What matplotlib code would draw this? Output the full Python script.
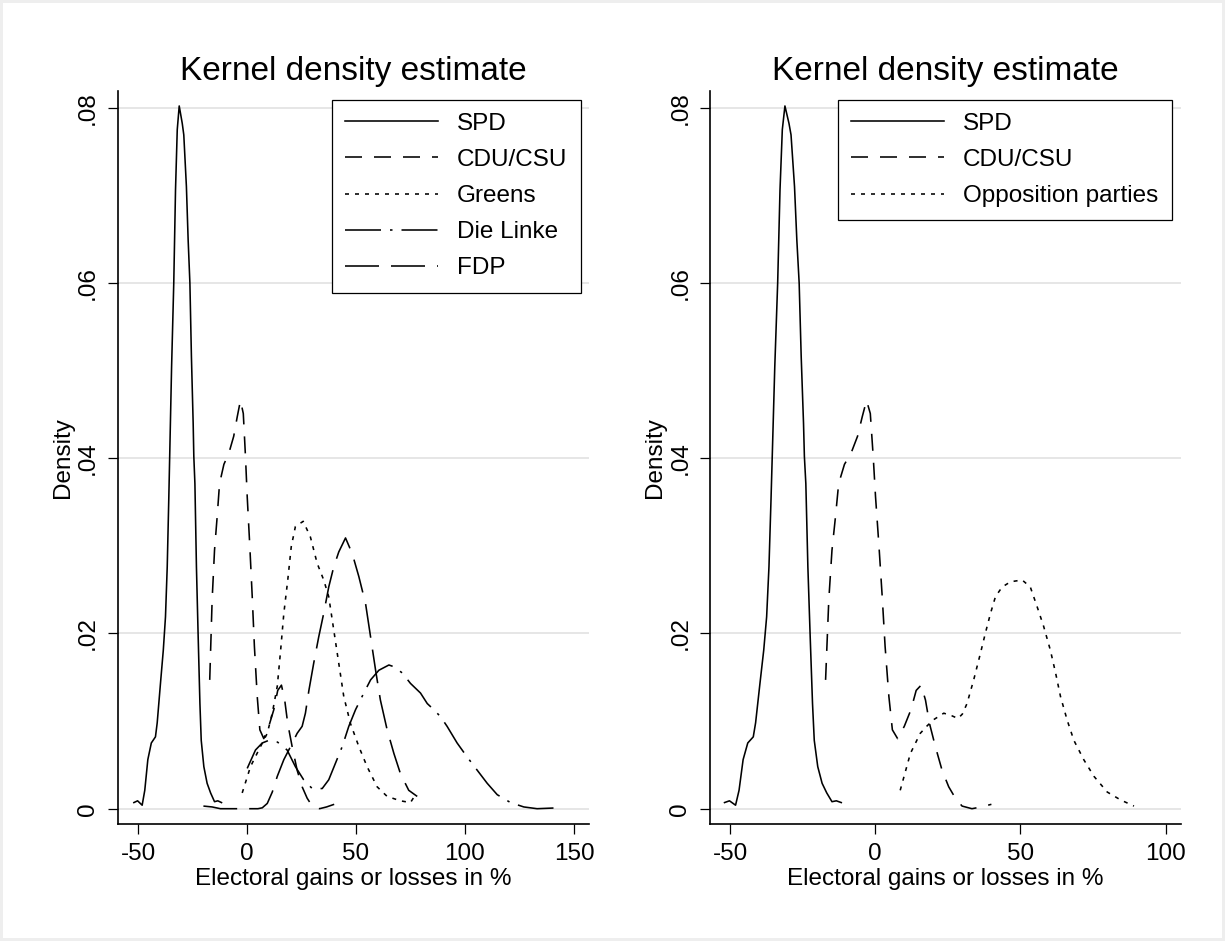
import matplotlib
matplotlib.use("Agg")
import matplotlib.pyplot as plt

plt.rcParams['font.family'] = ['Liberation Sans', 'DejaVu Sans']
plt.rcParams['axes.unicode_minus'] = False

# density curves (x = gain/loss in %, y = density)
spd_x = [-51.9, -50.2, -48.1, -46.9, -45.5, -43.9, -42.0, -41.2, -39.7, -38.4, -37.4, -36.6,
         -35.9, -35.4, -34.6, -33.6, -32.8, -32.0, -31.1, -29.7, -29.0, -27.8, -27.0, -26.2,
         -25.5, -24.7, -24.4, -23.9, -23.2, -22.4, -21.6, -21.0, -19.8, -18.3, -16.7, -14.9,
         -13.4, -11.7]
spd_y = [0.0007, 0.0009, 0.0004, 0.0021, 0.0056, 0.0075, 0.0082, 0.0098, 0.0143, 0.0181, 0.0219, 0.0276,
         0.0352, 0.0410, 0.0504, 0.0600, 0.0706, 0.0775, 0.0802, 0.0782, 0.0769, 0.0710, 0.0649, 0.0600,
         0.0516, 0.0440, 0.0402, 0.0371, 0.0276, 0.0196, 0.0120, 0.0078, 0.0048, 0.0029, 0.0018, 0.0008,
         0.0009, 0.0007]

cdu_x = [-17.1, -16.0, -14.9, -13.7, -12.6, -10.6, -8.3, -6.1, -4.5, -3.0, -1.7, -0.7, 0.1, 1.3,
         2.4, 3.4, 4.7, 5.9, 7.7, 10.0, 12.3, 14.1, 15.8, 17.3, 18.7, 20.7, 23.0, 25.3, 27.6,
         29.9, 33.3, 36.5, 40.0]
cdu_y = [0.0147, 0.0238, 0.0295, 0.0333, 0.0371, 0.0393, 0.0406, 0.0425, 0.0447, 0.0466, 0.0451, 0.0402,
         0.0356, 0.0299, 0.0242, 0.0185, 0.0128, 0.0090, 0.0080, 0.0094, 0.0113, 0.0135, 0.0141, 0.0124,
         0.0097, 0.0071, 0.0044, 0.0025, 0.0012, 0.0003, 0.0000, 0.0002, 0.0005]

greens_x = [-2.2, 1.6, 5.4, 9.3, 11.6, 13.9, 15.4, 16.9, 18.7, 20.3, 22.2, 25.8, 29.1, 32.2, 35.2,
            37.5, 39.8, 42.1, 44.4, 47.5, 51.3, 55.1, 59.7, 64.3, 70.4, 75.0, 77.3]
greens_y = [0.0018, 0.0048, 0.0067, 0.0086, 0.0109, 0.0140, 0.0180, 0.0223, 0.0261, 0.0299, 0.0322, 0.0328,
            0.0310, 0.0280, 0.0261, 0.0242, 0.0204, 0.0166, 0.0128, 0.0097, 0.0071, 0.0048, 0.0025, 0.0014,
            0.0009, 0.0007, 0.0016]

linke_x = [0.1, 3.9, 7.0, 10.0, 14.0, 18.4, 22.2, 26.0, 29.9, 34.5, 37.5, 40.6, 43.7, 46.7, 49.8,
           53.6, 56.7, 60.5, 65.1, 67.4, 71.2, 75.0, 79.6, 82.7, 85.7, 88.8, 91.8, 96.4, 101.0,
           105.6, 110.2, 114.8, 120.9, 127.0, 133.1, 143.0]
linke_y = [0.0046, 0.0067, 0.0075, 0.0078, 0.0076, 0.0067, 0.0048, 0.0033, 0.0023, 0.0023, 0.0033, 0.0052,
           0.0071, 0.0094, 0.0113, 0.0132, 0.0147, 0.0158, 0.0164, 0.0162, 0.0155, 0.0143, 0.0132, 0.0120,
           0.0113, 0.0105, 0.0094, 0.0075, 0.0059, 0.0044, 0.0029, 0.0016, 0.0007, 0.0002, 0.0000, 0.0001]

fdp_x = [-20.0, -16.0, -12.2, -5.0, 0.0, 5.0, 7.0, 9.3, 11.6, 13.9, 16.9, 20.0, 23.0, 25.3, 26.8,
         28.4, 30.6, 32.9, 35.2, 37.5, 39.8, 42.1, 45.2, 48.3, 51.3, 54.4, 56.7, 59.0, 61.2, 64.3,
         67.4, 70.4, 74.2, 78.1]
fdp_y = [0.0003, 0.0002, 0.0000, 0.0000, 0.0000, 0.0000, 0.0001, 0.0006, 0.0019, 0.0037, 0.0056, 0.0071,
         0.0086, 0.0094, 0.0109, 0.0135, 0.0166, 0.0196, 0.0223, 0.0253, 0.0276, 0.0293, 0.0309, 0.0291,
         0.0265, 0.0234, 0.0196, 0.0158, 0.0124, 0.0090, 0.0063, 0.0040, 0.0021, 0.0014]

opp_x = [8.6, 12.1, 15.5, 18.0, 20.3, 23.6, 26.4, 28.5, 30.0, 31.6, 33.9, 36.2, 37.9, 39.7, 41.4,
         43.7, 46.6, 50.6, 53.4, 55.7, 58.0, 60.3, 62.1, 63.8, 66.1, 68.4, 71.8, 75.3, 79.9, 84.5, 89.1]
opp_y = [0.0021, 0.0063, 0.0086, 0.0095, 0.0102, 0.0109, 0.0106, 0.0103, 0.0108, 0.0120, 0.0147, 0.0177,
         0.0200, 0.0223, 0.0242, 0.0253, 0.0259, 0.0261, 0.0253, 0.0231, 0.0208, 0.0181, 0.0155, 0.0128,
         0.0101, 0.0078, 0.0056, 0.0037, 0.0019, 0.0010, 0.0003]

y_ticks = [0, 0.02, 0.04, 0.06, 0.08]
y_ticklabels = ["0", ".02", ".04", ".06", ".08"]
left_xticks = [-50, 0, 50, 100, 150]
right_xticks = [-50, 0, 50, 100]

LW = 1.15
PX = 100 / 72.0


def dash(*px):
    # dash lengths given in pixels, converted to linewidth units
    return tuple(p / (LW * PX) for p in px)


styles = {
    "SPD": dict(linestyle="-"),
    "CDU/CSU": dict(dashes=dash(17, 12)),
    "Greens": dict(dashes=dash(4, 6)),
    "Die Linke": dict(dashes=dash(36, 9, 2.5, 9)),
    "FDP": dict(dashes=dash(34, 12)),
    "Opposition parties": dict(dashes=dash(4, 6)),
}

fig = plt.figure(figsize=(12.25, 9.41), dpi=100, facecolor="white",
                 edgecolor="#eeeeee", linewidth=3)
ax1 = fig.add_axes([0.0963, 0.1243, 0.3845, 0.7793])
ax2 = fig.add_axes([0.5796, 0.1243, 0.3845, 0.7793])


def style_axes(ax, xlim, xticks):
    ax.set_xlim(*xlim)
    ax.set_ylim(-0.00175, 0.08194)
    ax.set_xticks(xticks)
    ax.set_yticks(y_ticks)
    ax.set_yticklabels(y_ticklabels, rotation=90, va="center")
    ax.grid(axis="y", color="#e6e6e6", linewidth=1.4)
    ax.set_axisbelow(True)
    for side in ["top", "right"]:
        ax.spines[side].set_visible(False)
    for side in ["left", "bottom"]:
        ax.spines[side].set_linewidth(1.2)
    ax.tick_params(direction="out", length=7, width=0.9, labelsize=17.5, pad=6.5)
    ax.set_xlabel("Electoral gains or losses in %", fontsize=17.5, labelpad=2)
    ax.set_ylabel("Density", fontsize=17.5, labelpad=2)
    ax.set_title("Kernel density estimate", fontsize=24, pad=8)


series_left = [("SPD", spd_x, spd_y), ("CDU/CSU", cdu_x, cdu_y), ("Greens", greens_x, greens_y),
               ("Die Linke", linke_x, linke_y), ("FDP", fdp_x, fdp_y)]
series_right = [("SPD", spd_x, spd_y), ("CDU/CSU", cdu_x, cdu_y),
                ("Opposition parties", opp_x, opp_y)]

for name, xs, ys in series_left:
    ax1.plot(xs, ys, color="black", linewidth=LW, label=name, **styles[name])
for name, xs, ys in series_right:
    ax2.plot(xs, ys, color="black", linewidth=LW, label=name, **styles[name])

style_axes(ax1, (-59.2, 156.9), left_xticks)
style_axes(ax2, (-56.9, 105.3), right_xticks)

for ax, anchor in [(ax1, (0.983, 0.988)), (ax2, (0.9805, 0.988))]:
    leg = ax.legend(loc="upper right", bbox_to_anchor=anchor, borderaxespad=0,
                    fontsize=17.5, handlelength=3.8, handletextpad=0.8,
                    labelspacing=0.58, borderpad=0.55, fancybox=False, framealpha=1)
    leg.get_frame().set_edgecolor("black")
    leg.get_frame().set_linewidth(0.9)

fig.savefig("out.png", dpi=100)
